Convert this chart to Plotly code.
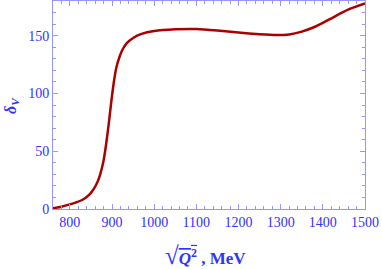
import plotly.graph_objects as go

sqrt_q = [760, 780, 800, 815, 830, 845, 855, 865, 872, 880, 886, 892, 898, 904, 910, 918, 925, 935, 950, 970, 1000, 1050, 1100, 1150, 1200, 1250, 1290, 1320, 1350, 1380, 1400, 1430, 1460, 1500]
delta_v = [0.6, 2.0, 4.0, 5.8, 8.0, 12.0, 16.5, 23.0, 30.0, 42.0, 56.0, 73.0, 92.0, 109.0, 122.0, 132.0, 138.0, 143.5, 148.0, 151.5, 154.0, 155.5, 155.8, 154.5, 152.7, 151.2, 150.5, 151.0, 153.5, 157.5, 161.0, 167.0, 172.5, 177.8]

x_ticks = [800, 900, 1000, 1100, 1200, 1300, 1400, 1500]
y_ticks = [0, 50, 100, 150]

axis_col = "rgb(150,150,255)"
label_col = "rgb(50,50,255)"
font_fam = "Liberation Serif"

fig = go.Figure()
fig.add_trace(go.Scatter(x=sqrt_q, y=delta_v, mode="lines", line=dict(color="#aa0000", width=2.5, shape="spline", smoothing=0.6), showlegend=False))

common = dict(showline=True, linecolor=axis_col, linewidth=1, mirror="ticks", ticks="inside",
              tickcolor=axis_col, ticklen=5, showgrid=False, zeroline=False,
              tickfont=dict(family=font_fam, size=14, color=label_col))

fig.update_xaxes(range=[760, 1500], tickvals=x_ticks,
                 minor=dict(dtick=20, ticks="inside", ticklen=3, tickcolor=axis_col, showgrid=False),
                 **common)
fig.update_yaxes(range=[0, 180], tickvals=y_ticks,
                 minor=dict(dtick=10, ticks="inside", ticklen=3, tickcolor=axis_col, showgrid=False),
                 **common)

fig.add_annotation(xref="paper", yref="paper", x=0.49, y=-0.15, yanchor="top", xanchor="center", showarrow=False,
                   text="<b><span style='font-size:25px'>√</span><span style='text-decoration:overline'><i>Q</i><sup>2</sup></span> , MeV</b>",
                   font=dict(family=font_fam, size=17, color=label_col))
fig.add_annotation(xref="paper", yref="paper", x=-0.135, y=0.5, xanchor="center", yanchor="middle", showarrow=False,
                   textangle=-90, text="<b><i>δ</i><sub><i>V</i></sub></b>",
                   font=dict(family=font_fam, size=16, color=label_col))

fig.update_layout(width=382, height=269, margin=dict(l=53, r=17, t=1, b=60),
                  plot_bgcolor="white", paper_bgcolor="white")
fig.write_html("out.html", config={"displayModeBar": False},
               post_script="document.body.style.margin='0';")
